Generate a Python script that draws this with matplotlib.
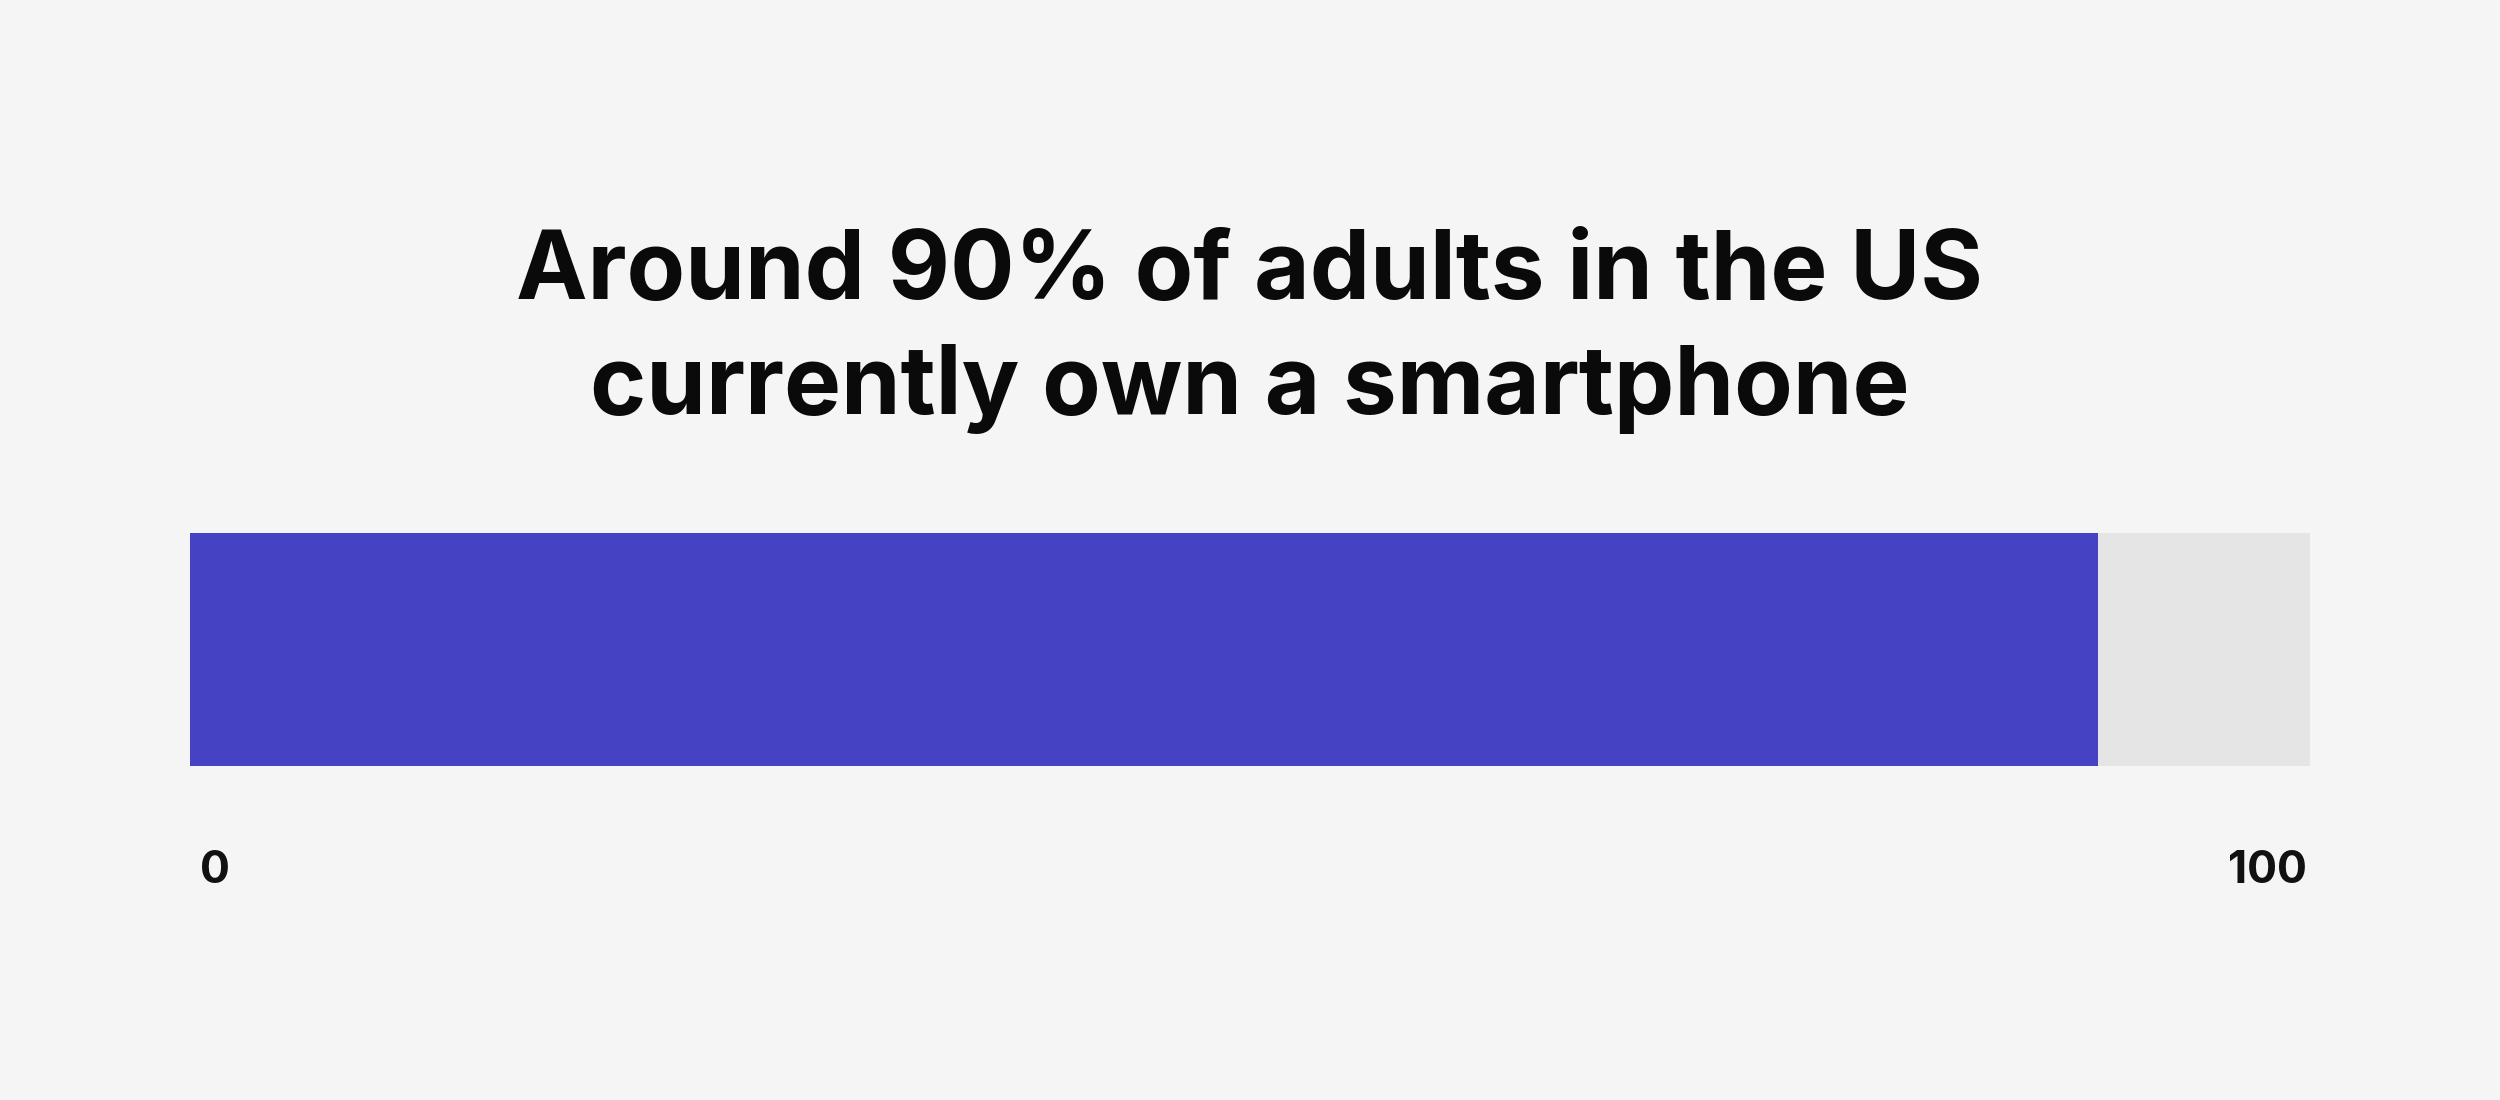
import matplotlib
matplotlib.use("Agg")
import matplotlib.pyplot as plt

title_lines = ["Around 90% of adults in the US", "currently own a smartphone"]
category = ["US adults owning a smartphone"]
value = [90]
total = [100]
tick_values = [0, 100]
tick_labels = ["0", "100"]

BG = "#f5f5f5"
BLUE = "#4542c3"
GREY = "#e5e5e5"

plt.rcParams['font.family'] = ['Inter', 'DejaVu Sans']

W, H = 2500, 1100
fig = plt.figure(figsize=(W / 100, H / 100), dpi=100, facecolor=BG)

# bar axes: x 190..2310 px, y 533..766 px from top
ax = fig.add_axes([190 / W, 1 - 766 / H, (2310 - 190) / W, (766 - 533) / H])
ax.set_facecolor(BG)
ax.barh(category, total, height=1.0, color=GREY, left=0)
ax.barh(category, value, height=1.0, color=BLUE, left=0)
ax.set_xlim(0, 100)
ax.set_ylim(-0.5, 0.5)
ax.axis("off")

# tick labels below the bar
import matplotlib.transforms as mtransforms
trans = mtransforms.blended_transform_factory(ax.transData, fig.transFigure)
for v, lab in zip(tick_values, tick_labels):
    ha = "left" if v == tick_values[0] else "right"
    offset = 10 if ha == "left" else -3
    ax.text(v, 1 - 883 / H, lab, transform=mtransforms.offset_copy(trans, fig=fig, x=offset, y=0, units="dots"),
            ha=ha, va="baseline", fontsize=32, fontweight="bold", color="#111111")

# title
baselines = [299, 414]
for line, b in zip(title_lines, baselines):
    fig.text(0.5, 1 - b / H, line, ha="center", va="baseline", fontsize=69,
             fontweight="bold", color="#0a0a0a")

fig.savefig("out.png", dpi=100, facecolor=BG)
